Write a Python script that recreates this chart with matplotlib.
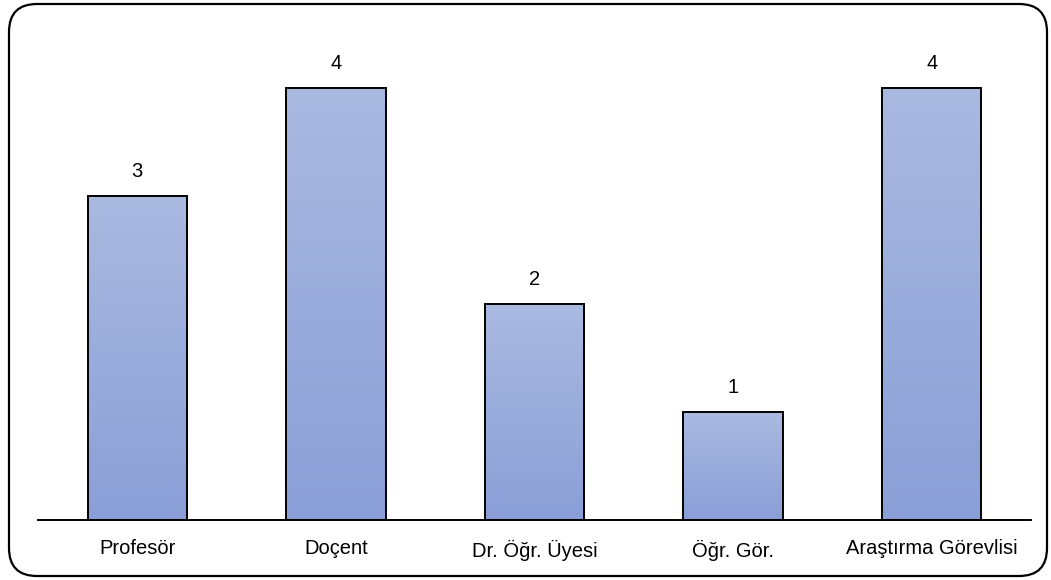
import numpy as np
import matplotlib
matplotlib.use("Agg")
import matplotlib.pyplot as plt
from matplotlib.patches import FancyBboxPatch
from matplotlib.colors import LinearSegmentedColormap

plt.rcParams['font.family'] = ['Liberation Sans', 'DejaVu Sans']

categories = ["Profesör", "Doçent", "Dr. Öğr. Üyesi", "Öğr. Gör.", "Araştırma Görevlisi"]
counts = [3, 4, 2, 1, 4]

W, H = 1051, 580
fig = plt.figure(figsize=(W / 100, H / 100), dpi=100)

# background layer in pixel units for the rounded frame
bg = fig.add_axes([0, 0, 1, 1], zorder=-1)
bg.set_xlim(0, W)
bg.set_ylim(H, 0)
bg.axis("off")
bg.add_patch(FancyBboxPatch((9, 4), 1038, 572,
                            boxstyle="round,pad=0,rounding_size=28",
                            facecolor="white", edgecolor="black", linewidth=1.6))

ax = fig.add_axes([38 / W, 60 / H, (1031 - 38) / W, (520 - 30) / H])
ax.set_facecolor("none")
x = np.arange(len(categories))
ax.set_xlim(-0.5, 4.5)
ax.set_ylim(0, (520 - 30) / 108)

cmap = LinearSegmentedColormap.from_list("barfill", ["#8A9FD7", "#AAB9E0"])
grad = np.linspace(0, 1, 256).reshape(-1, 1)

bars = ax.bar(x, counts, width=0.5, facecolor="none", edgecolor="black",
              linewidth=1.4, zorder=3)
for b, v in zip(bars, counts):
    im = ax.imshow(grad, cmap=cmap, origin="lower", aspect="auto",
                   extent=(b.get_x(), b.get_x() + b.get_width(), 0, v),
                   zorder=2)
    im.set_clip_path(b)
    ax.text(b.get_x() + b.get_width() / 2, v + 0.23, str(v),
            ha="center", va="center", fontsize=14.5)

for side in ["top", "right", "left"]:
    ax.spines[side].set_visible(False)
ax.spines["bottom"].set_linewidth(1.4)
ax.set_yticks([])
ax.set_xticks(x)
ax.set_xticklabels(categories, fontsize=14.5)
ax.tick_params(axis="x", length=0, pad=14)

fig.savefig("out.png", dpi=100)
